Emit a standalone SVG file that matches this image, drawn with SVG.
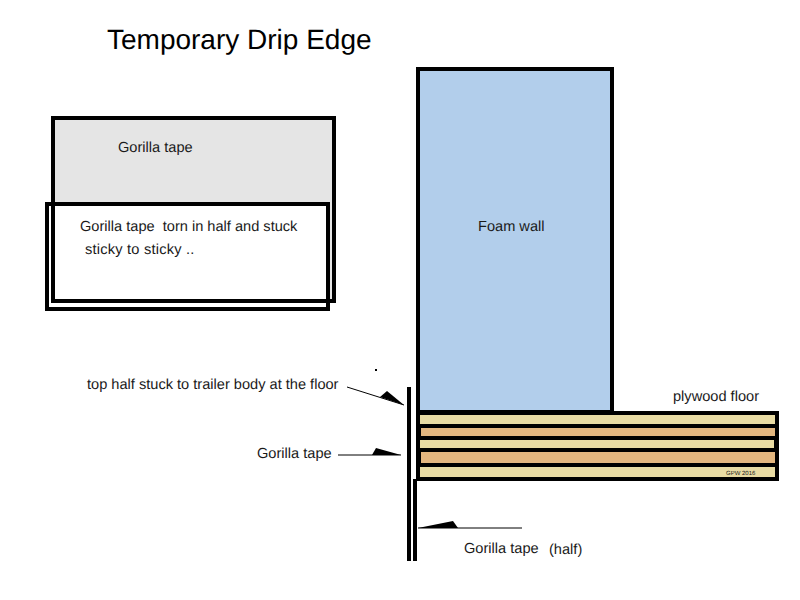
<svg xmlns="http://www.w3.org/2000/svg" width="800" height="600" viewBox="0 0 800 600">
<style>
text{font-family:"Liberation Sans",Arial,sans-serif;fill:#1a1a1a;font-size:14.6px;text-rendering:geometricPrecision}
.t{font-size:28px;fill:#000}
.b{fill:none;stroke:#000;stroke-width:4}
.k{fill:#000}
.l{fill:none;stroke:#000;stroke-width:1}
.tan{fill:#e8dba3}
.or{fill:#e3b67f}
</style>
<rect width="800" height="600" fill="#fff"/>
<text class="t" x="107" y="49">Temporary Drip Edge</text>
<g id="tape-sheet">
<rect x="53" y="118" width="281" height="183" fill="#e5e5e5"/>
<rect x="47" y="204" width="281" height="105" fill="#fff" stroke="#000" stroke-width="4"/>
<rect class="b" x="53" y="118" width="281" height="183"/>
<path d="M55 206H326V299H55Z" fill="#fff"/>
<text x="118" y="152">Gorilla tape</text>
<text x="80" y="231" xml:space="preserve">Gorilla tape  torn in half and stuck</text>
<text x="85" y="254" letter-spacing="0.22">sticky to sticky ..</text>
</g>
<g id="foam-wall">
<rect x="418" y="69" width="194" height="343" fill="#b2ceeb" stroke="#000" stroke-width="4"/>
<text x="478" y="231">Foam wall</text>
</g>
<g id="plywood-floor">
<rect class="k" x="416" y="411" width="363" height="70"/>
<rect class="tan" x="420" y="415" width="355" height="9"/>
<rect class="or" x="421" y="428" width="354" height="8"/>
<rect class="tan" x="420" y="440" width="354" height="8"/>
<rect class="or" x="421" y="452" width="354" height="11"/>
<rect class="tan" x="420" y="467" width="355" height="10"/>
<text x="726" y="475" style="font-size:6px">GPW 2016</text>
<text x="673" y="401">plywood floor</text>
</g>
<g id="tape-strips">
<rect class="k" x="407" y="387" width="4" height="174"/>
<rect class="k" x="413" y="479" width="4" height="82"/>
</g>
<g id="connectors">
<path class="l" d="M347 387L404 405"/>
<path class="k" d="M380 397L387 391L404 405Z"/>
<path class="l" d="M338 455H401"/>
<path class="k" d="M372 455L376 448L401 455Z"/>
<path class="l" d="M418 528H522"/>
<path class="k" d="M418 528L453 521L458 528Z"/>
<rect class="k" x="375" y="369" width="2" height="2"/>
</g>
<text x="87" y="389">top half stuck to trailer body at the floor</text>
<text x="257" y="458">Gorilla tape</text>
<text x="464" y="553">Gorilla tape</text>
<text x="549" y="554">(half)</text>
</svg>
